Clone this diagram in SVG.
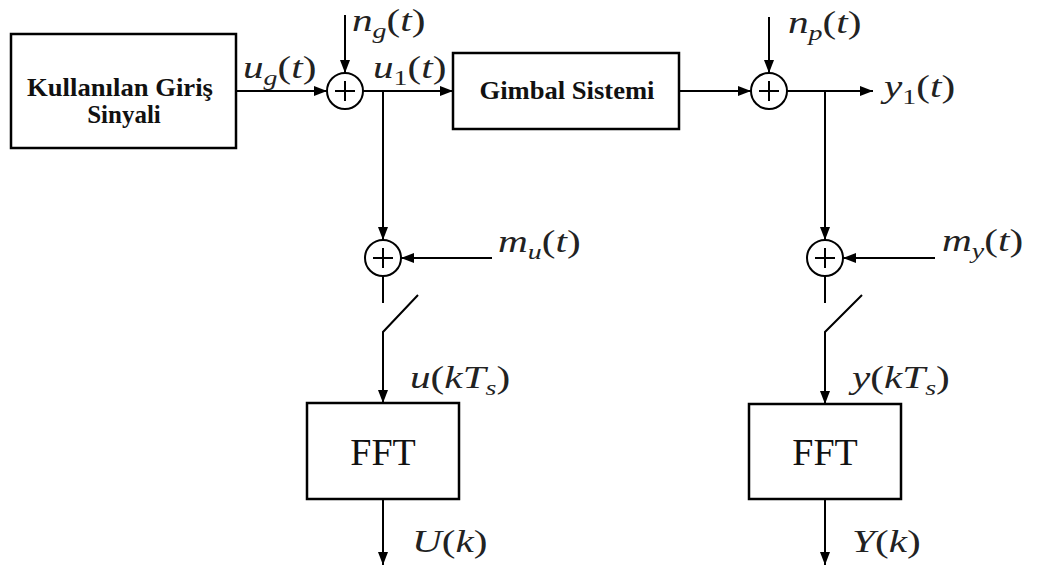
<svg xmlns="http://www.w3.org/2000/svg" width="1039" height="572" viewBox="0 0 1039 572">
<defs>
<marker id="ah" markerUnits="userSpaceOnUse" markerWidth="14" markerHeight="10" refX="13" refY="5" orient="auto">
<path d="M0,0 L13,5 L0,10 Z" fill="#000"/>
</marker>
<style>
.box{fill:#fff;stroke:#000;stroke-width:2.5}
.sum{fill:#fff;stroke:#000;stroke-width:2}
.w{fill:none;stroke:#000;stroke-width:2}
.a{fill:none;stroke:#000;stroke-width:2;marker-end:url(#ah)}
.bt{font-family:"Liberation Serif",serif;font-weight:bold;font-size:25px;text-anchor:middle;fill:#111}
.ft{font-family:"Liberation Serif",serif;font-size:38px;text-anchor:middle;fill:#111}
.m{font-family:"Liberation Serif",serif;font-style:italic;font-size:31px;fill:#222}
.r{font-style:normal}
.s{font-size:21px}
</style>
</defs>
<rect width="1039" height="572" fill="#fff"/>
<g id="connectors">
<path class="a" d="M236,91 H327"/>
<path class="a" d="M345,15 V73"/>
<path class="a" d="M363,91 H453"/>
<path class="a" d="M679,91 H751"/>
<path class="a" d="M769,17 V73"/>
<path class="a" d="M787,91 H873"/>
<path class="a" d="M383,91 V240"/>
<path class="a" d="M492,258 H401"/>
<path class="w" d="M383,276 V303"/>
<path class="a" d="M418,295 L383,332 V403"/>
<path class="a" d="M383,499 V565"/>
<path class="a" d="M825,91 V240"/>
<path class="a" d="M935,258 H843"/>
<path class="w" d="M825,276 V303"/>
<path class="a" d="M862,295 L825,332 V404"/>
<path class="a" d="M825,499 V565"/>
</g>
<g id="input">
<rect class="box" x="11" y="34" width="225" height="114"/>
<text class="bt" x="120" y="96" textLength="186" lengthAdjust="spacingAndGlyphs">Kullanılan Giriş</text>
<text class="bt" x="124" y="123">Sinyali</text>
</g>
<g id="gimbal">
<rect class="box" x="453" y="53" width="226" height="76"/>
<text class="bt" x="567" y="99" textLength="175" lengthAdjust="spacingAndGlyphs">Gimbal Sistemi</text>
</g>
<g id="sum1"><circle class="sum" cx="345" cy="91" r="18"/><path class="w" d="M335,91 H355 M345,81 V101"/></g>
<g id="sum2"><circle class="sum" cx="769" cy="91" r="18"/><path class="w" d="M759,91 H779 M769,81 V101"/></g>
<g id="sum3"><circle class="sum" cx="383" cy="258" r="18"/><path class="w" d="M373,258 H393 M383,248 V268"/></g>
<g id="sum4"><circle class="sum" cx="825" cy="258" r="18"/><path class="w" d="M815,258 H835 M825,248 V268"/></g>
<g id="fft1">
<rect class="box" x="307" y="403" width="152" height="96"/>
<text class="ft" x="383" y="465">FFT</text>
</g>
<g id="fft2">
<rect class="box" x="749" y="404" width="152" height="95"/>
<text class="ft" x="825" y="465">FFT</text>
</g>
<g id="labels">
<text class="m" transform="translate(243,78) scale(1.33,1)">u<tspan class="s" dy="7">g</tspan><tspan class="r" dy="-7">(</tspan>t<tspan class="r">)</tspan></text>
<text class="m" transform="translate(352,31) scale(1.33,1)">n<tspan class="s" dy="7">g</tspan><tspan class="r" dy="-7">(</tspan>t<tspan class="r">)</tspan></text>
<text class="m" transform="translate(373,78) scale(1.33,1)">u<tspan class="s r" dy="7">1</tspan><tspan class="r" dy="-7">(</tspan>t<tspan class="r">)</tspan></text>
<text class="m" transform="translate(788,33) scale(1.33,1)">n<tspan class="s" dy="7">p</tspan><tspan class="r" dy="-7">(</tspan>t<tspan class="r">)</tspan></text>
<text class="m" transform="translate(884,97) scale(1.33,1)">y<tspan class="s r" dy="7">1</tspan><tspan class="r" dy="-7">(</tspan>t<tspan class="r">)</tspan></text>
<text class="m" transform="translate(498,252) scale(1.33,1)">m<tspan class="s" dy="7">u</tspan><tspan class="r" dy="-7">(</tspan>t<tspan class="r">)</tspan></text>
<text class="m" transform="translate(942,251) scale(1.33,1)">m<tspan class="s" dy="7">y</tspan><tspan class="r" dy="-7">(</tspan>t<tspan class="r">)</tspan></text>
<text class="m" transform="translate(410,388) scale(1.33,1)">u<tspan class="r">(</tspan>kT<tspan class="s" dy="7">s</tspan><tspan class="r" dy="-7">)</tspan></text>
<text class="m" transform="translate(852,388) scale(1.33,1)">y<tspan class="r">(</tspan>kT<tspan class="s" dy="7">s</tspan><tspan class="r" dy="-7">)</tspan></text>
<text class="m" transform="translate(412,552) scale(1.33,1)">U<tspan class="r">(</tspan>k<tspan class="r">)</tspan></text>
<text class="m" transform="translate(852,552) scale(1.33,1)">Y<tspan class="r">(</tspan>k<tspan class="r">)</tspan></text>
</g>
</svg>
